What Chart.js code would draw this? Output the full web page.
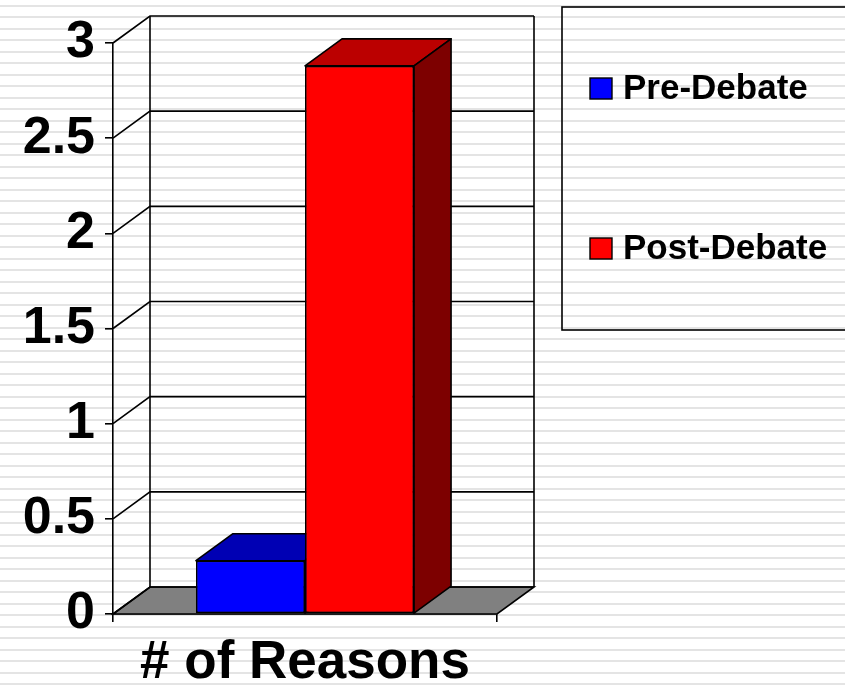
<!DOCTYPE html>
<html><head><meta charset="utf-8">
<script src="https://cdn.jsdelivr.net/npm/chart.js@4"></script>
<style>html,body{margin:0;padding:0;background:#fff;overflow:hidden}</style>
</head>
<body>
<canvas id="c" width="845" height="686" style="display:block;width:845px;height:686px"></canvas>
<script>
const categories = ['# of Reasons'];
const seriesNames = ['Pre-Debate', 'Post-Debate'];
const preDebate = [0.28];
const postDebate = [2.88];
const yTickValues = [0, 0.5, 1, 1.5, 2, 2.5, 3];
const yTickLabels = ['0', '0.5', '1', '1.5', '2', '2.5', '3'];

const frontColors = ['#0000ff', '#ff0000'];
const topColors = ['#0000b4', '#bb0000'];
const sideColors = ['#000080', '#7d0000'];
const DX = 37, DY = 27;
const FONT = '"Liberation Sans", Arial, Helvetica, sans-serif';

const bgPlugin = {
  id: 'bg',
  beforeDraw(chart) {
    const ctx = chart.ctx;
    ctx.save();
    ctx.fillStyle = '#ffffff';
    ctx.fillRect(0, 0, chart.width, chart.height);
    ctx.fillStyle = '#e4e4e4';
    for (let y = 4.5; y < chart.height; y += 11.5) {
      ctx.fillRect(0, Math.round(y), chart.width, 2);
    }
    ctx.restore();
  }
};

const wallPlugin = {
  id: 'walls',
  beforeDatasetsDraw(chart) {
    const ctx = chart.ctx;
    const ys = chart.scales.y;
    const a = chart.chartArea;
    ctx.save();
    ctx.strokeStyle = '#000';
    ctx.lineWidth = 1.6;
    // floor
    ctx.beginPath();
    ctx.moveTo(a.left, a.bottom);
    ctx.lineTo(a.right, a.bottom);
    ctx.lineTo(a.right + DX, a.bottom - DY);
    ctx.lineTo(a.left + DX, a.bottom - DY);
    ctx.closePath();
    ctx.fillStyle = '#808080';
    ctx.fill();
    ctx.stroke();
    // back wall gridlines + left wall diagonals
    yTickValues.forEach(v => {
      const y = ys.getPixelForValue(v);
      ctx.beginPath();
      ctx.moveTo(a.left, y);
      ctx.lineTo(a.left + DX, y - DY);
      ctx.lineTo(a.right + DX, y - DY);
      ctx.stroke();
    });
    // wall verticals
    ctx.beginPath();
    ctx.moveTo(a.left + DX, a.top - DY);
    ctx.lineTo(a.left + DX, a.bottom - DY);
    ctx.moveTo(a.right + DX, a.top - DY);
    ctx.lineTo(a.right + DX, a.bottom - DY);
    ctx.stroke();
    ctx.restore();
  },
  afterDatasetsDraw(chart) {
    const ctx = chart.ctx;
    chart.data.datasets.forEach((ds, di) => {
      const meta = chart.getDatasetMeta(di);
      meta.data.forEach(bar => {
        const p = bar.getProps(['x', 'y', 'base', 'width'], true);
        const l = p.x - p.width / 2, r = p.x + p.width / 2, t = p.y, b = p.base;
        ctx.save();
        ctx.strokeStyle = '#000';
        ctx.lineWidth = 1.6;
        ctx.lineJoin = 'round';
        // top face
        ctx.beginPath();
        ctx.moveTo(l, t);
        ctx.lineTo(l + DX, t - DY);
        ctx.lineTo(r + DX, t - DY);
        ctx.lineTo(r, t);
        ctx.closePath();
        ctx.fillStyle = topColors[di];
        ctx.fill();
        ctx.stroke();
        // side face
        ctx.beginPath();
        ctx.moveTo(r, t);
        ctx.lineTo(r + DX, t - DY);
        ctx.lineTo(r + DX, b - DY);
        ctx.lineTo(r, b);
        ctx.closePath();
        ctx.fillStyle = sideColors[di];
        ctx.fill();
        ctx.stroke();
        ctx.restore();
        bar.draw(ctx);
      });
    });
    // legend
    ctx.save();
    ctx.strokeStyle = '#000';
    ctx.lineWidth = 1.6;
    ctx.strokeRect(562, 7, 300, 323);
    ctx.font = 'bold 35px ' + FONT;
    ctx.textBaseline = 'middle';
    ctx.textAlign = 'left';
    const rows = [88, 248];
    chart.data.datasets.forEach((ds, di) => {
      const cy = rows[di];
      ctx.fillStyle = ds.backgroundColor;
      ctx.fillRect(590, cy - 10, 22, 21);
      ctx.lineWidth = 1.4;
      ctx.strokeRect(590, cy - 10, 22, 21);
      ctx.fillStyle = '#000';
      ctx.fillText(ds.label, 623, cy + 1);
    });
    ctx.restore();
  }
};

new Chart(document.getElementById('c'), {
  type: 'bar',
  data: {
    labels: categories,
    datasets: [
      { label: seriesNames[0], data: preDebate, backgroundColor: frontColors[0], borderColor: '#000', borderWidth: 1.6, borderSkipped: false },
      { label: seriesNames[1], data: postDebate, backgroundColor: frontColors[1], borderColor: '#000', borderWidth: 1.6, borderSkipped: false }
    ]
  },
  options: {
    responsive: false,
    devicePixelRatio: 1,
    animation: false,
    layout: { padding: { left: 0, right: 348, top: 43, bottom: 0 } },
    plugins: { legend: { display: false }, tooltip: { enabled: false } },
    datasets: { bar: { categoryPercentage: 0.568, barPercentage: 1.0 } },
    scales: {
      x: {
        offset: true,
        afterFit(s) { s.height = 72; },
        grid: { drawOnChartArea: false, drawTicks: true, tickLength: 8, color: '#000', lineWidth: 1.6, offset: true },
        border: { display: true, color: '#000', width: 1.6 },
        ticks: { color: '#000', padding: 10, font: { family: FONT, size: 53, weight: 'bold' } }
      },
      y: {
        min: 0, max: 3,
        afterFit(s) { s.width = 113; },
        afterBuildTicks(s) { s.ticks = yTickValues.map(v => ({ value: v })); },
        grid: { drawOnChartArea: false, drawTicks: true, tickLength: 8, color: '#000', lineWidth: 1.6 },
        border: { display: true, color: '#000', width: 1.6 },
        ticks: {
          color: '#000', padding: 10,
          font: { family: FONT, size: 52, weight: 'bold' },
          callback: (v) => { const i = yTickValues.indexOf(v); return i >= 0 ? yTickLabels[i] : String(v); }
        }
      }
    }
  },
  plugins: [bgPlugin, wallPlugin]
});
</script>
</body></html>
